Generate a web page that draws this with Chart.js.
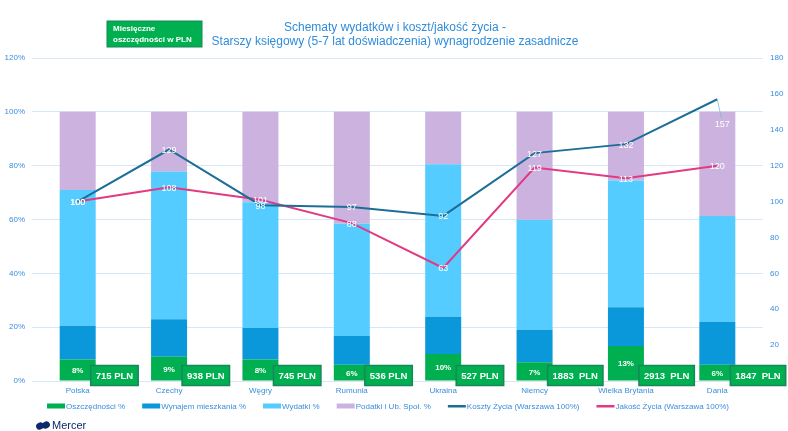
<!DOCTYPE html>
<html>
<head>
<meta charset="utf-8">
<script src="https://cdn.jsdelivr.net/npm/chart.js@4.4.0/dist/chart.umd.min.js"></script>
<style>
  html, body { margin: 0; padding: 0; background: #fff; }
  #wrap { width: 788px; height: 431px; position: relative; }
</style>
</head>
<body>
<div id="wrap"><canvas id="c" width="788" height="431"></canvas></div>
<script>
// ── dane ─────────────────────────────
const KRAJE      = ['Polska', 'Czechy', 'Węgry', 'Rumunia', 'Ukraina', 'Niemcy', 'Wielka Brytania', 'Dania'];
const OSZCZ      = [8, 9, 8, 6, 10, 7, 13, 6];
const NAJEM      = [12.5, 13.9, 11.7, 10.7, 13.9, 12, 14.4, 15.9];
const WYDATKI    = [50.5, 54.9, 46.7, 41.7, 56.6, 40.9, 47.1, 39.4];
const PODATKI    = [29, 22.2, 33.6, 41.6, 19.5, 40.1, 25.5, 38.7];
const KOSZTY     = [100, 129, 98, 97, 92, 127, 132, 157];
const JAKOSC     = [100, 108, 101, 88, 63, 119, 113, 120];
const OSZCZ_PLN  = [715, 938, 745, 536, 527, 1883, 2913, 1847];
const TICKS_L    = [0, 20, 40, 60, 80, 100, 120];
const TICKS_R    = [20, 40, 60, 80, 100, 120, 140, 160, 180];

const BLUE_TXT = '#3A8DDE';
const FONT     = "'Liberation Sans', Arial, sans-serif";

const COL = {
  oszcz:   '#00B050',
  najem:   '#0A98DA',
  wydatki: '#55CCFF',
  podatki: '#CBB2DF',
  koszty:  '#1C6E97',
  jakosc:  '#E23A82',
  boxLine: '#17865A',
};

// ── rysunki dodatkowe ────────────────
const extras = {
  id: 'extras',
  afterDatasetsDraw(chart) {
    const ctx = chart.ctx;
    const metaOsz = chart.getDatasetMeta(0);

    // % oszczędności w zielonym segmencie
    ctx.save();
    ctx.fillStyle = '#fff';
    ctx.font = 'bold 8px ' + FONT;
    ctx.textAlign = 'center';
    ctx.textBaseline = 'middle';
    metaOsz.data.forEach((bar, i) => {
      ctx.fillText(OSZCZ[i] + '%', bar.x, (bar.y + bar.base) / 2 + 1);
    });

    // boxy PLN
    ctx.font = 'bold 9.5px ' + FONT;
    metaOsz.data.forEach((bar, i) => {
      const n = OSZCZ_PLN[i];
      const txt = n + (n >= 1000 ? '  ' : ' ') + 'PLN';
      const w = ctx.measureText(txt).width + 10;
      const x0 = bar.x + bar.width / 2 - 5;
      const y0 = bar.base - 15;
      ctx.fillStyle = COL.oszcz;
      ctx.fillRect(x0, y0, w, 20);
      ctx.strokeStyle = COL.boxLine;
      ctx.lineWidth = 1.5;
      ctx.strokeRect(x0, y0, w, 20);
      ctx.fillStyle = '#fff';
      ctx.textAlign = 'left';
      ctx.fillText(txt, x0 + 5, y0 + 10.5);
    });

    // etykiety linii
    ctx.font = '9px ' + FONT;
    ctx.textAlign = 'center';
    [4, 5].forEach(di => {
      const meta = chart.getDatasetMeta(di);
      const vals = chart.data.datasets[di].data;
      meta.data.forEach((pt, i) => {
        let x = pt.x, y = pt.y;
        if (di === 4 && i === vals.length - 1) {
          ctx.strokeStyle = '#7FB7E6';
          ctx.lineWidth = 0.8;
          ctx.beginPath();
          ctx.moveTo(pt.x, pt.y);
          ctx.lineTo(pt.x + 4, pt.y + 19);
          ctx.stroke();
          x += 5; y += 24;
        }
        ctx.fillStyle = '#fff';
        ctx.fillText(vals[i], x, y + 1);
      });
    });
    ctx.restore();
  },
  afterDraw(chart) {
    const ctx = chart.ctx;
    ctx.save();

    // tytuł
    ctx.fillStyle = '#2F8CDB';
    ctx.font = '12px ' + FONT;
    ctx.textAlign = 'center';
    ctx.textBaseline = 'middle';
    ctx.fillText('Schematy wydatków i koszt/jakość życia -', 395, 28);
    ctx.fillText('Starszy księgowy (5-7 lat doświadczenia) wynagrodzenie zasadnicze', 395, 42);

    // box "Miesięczne oszczędności"
    ctx.fillStyle = COL.oszcz;
    ctx.fillRect(107, 21, 95, 26);
    ctx.strokeStyle = COL.boxLine;
    ctx.lineWidth = 1;
    ctx.strokeRect(107, 21, 95, 26);
    ctx.fillStyle = '#fff';
    ctx.font = 'bold 8px ' + FONT;
    ctx.textAlign = 'left';
    ctx.fillText('Miesięczne', 113, 29);
    ctx.fillText('oszczędności w PLN', 113, 40);

    // legenda
    ctx.font = '8px ' + FONT;
    const items = chart.data.datasets.map(ds => ({
      label: ds.label,
      color: ds.type === 'line' ? ds.borderColor : ds.backgroundColor,
      line: ds.type === 'line',
    }));
    const sw = 18, gapTxt = 1, gapItem = 17;
    let total = 0;
    items.forEach(it => { it.w = sw + gapTxt + ctx.measureText(it.label).width; total += it.w; });
    total += gapItem * (items.length - 1);
    let x = 388 - total / 2;
    const ly = 406;
    items.forEach(it => {
      ctx.fillStyle = it.color;
      if (it.line) ctx.fillRect(x, ly - 1, sw, 2.5);
      else ctx.fillRect(x, ly - 2.5, sw, 5);
      ctx.fillStyle = BLUE_TXT;
      ctx.fillText(it.label, x + sw + gapTxt, ly + 0.5);
      x += it.w + gapItem;
    });

    // logo Mercer
    ctx.fillStyle = '#0B2A6B';
    ctx.beginPath();
    ctx.ellipse(40, 426, 4, 3.5, -0.5, 0, Math.PI * 2);
    ctx.ellipse(46, 425, 4, 3.5, -0.5, 0, Math.PI * 2);
    ctx.fill();
    ctx.font = '11px ' + FONT;
    ctx.fillText('Mercer', 52, 426);
    ctx.restore();
  },
};

new Chart(document.getElementById('c'), {
  data: {
    labels: KRAJE,
    datasets: [
      { type: 'bar', label: 'Oszczędności %', data: OSZCZ, backgroundColor: COL.oszcz, order: 2, yAxisID: 'y' },
      { type: 'bar', label: 'Wynajem mieszkania %', data: NAJEM, backgroundColor: COL.najem, order: 2, yAxisID: 'y' },
      { type: 'bar', label: 'Wydatki %', data: WYDATKI, backgroundColor: COL.wydatki, order: 2, yAxisID: 'y' },
      { type: 'bar', label: 'Podatki i Ub. Społ. %', data: PODATKI, backgroundColor: COL.podatki, order: 2, yAxisID: 'y' },
      { type: 'line', label: 'Koszty Życia (Warszawa 100%)', data: KOSZTY, borderColor: COL.koszty, backgroundColor: COL.koszty,
        borderWidth: 2, pointRadius: 0, tension: 0, order: 1, yAxisID: 'y1' },
      { type: 'line', label: 'Jakość Życia (Warszawa 100%)', data: JAKOSC, borderColor: COL.jakosc, backgroundColor: COL.jakosc,
        borderWidth: 2, pointRadius: 0, tension: 0, order: 1, yAxisID: 'y1' },
    ],
  },
  options: {
    responsive: false,
    animation: false,
    devicePixelRatio: 1,
    layout: { padding: { top: 58, bottom: 30, left: 0, right: 0 } },
    datasets: { bar: { barPercentage: 0.394, categoryPercentage: 1 } },
    plugins: { legend: { display: false }, tooltip: { enabled: false }, title: { display: false } },
    scales: {
      x: {
        stacked: true,
        grid: { display: false, drawTicks: false },
        border: { display: false },
        ticks: { color: BLUE_TXT, font: { size: 8, family: FONT }, padding: 5, maxRotation: 0, autoSkip: false },
        afterFit: s => { s.height = 20; },
      },
      y: {
        stacked: true,
        min: 0, max: 120,
        position: 'left',
        grid: { color: '#D6E7F6', lineWidth: 1, drawTicks: false },
        border: { display: false },
        afterBuildTicks: s => { s.ticks = TICKS_L.map(v => ({ value: v })); },
        ticks: { color: BLUE_TXT, font: { size: 8, family: FONT }, padding: 7, callback: v => v + '%' },
        afterFit: s => { s.width = 32; },
      },
      y1: {
        min: 0, max: 180,
        position: 'right',
        grid: { display: false, drawTicks: false },
        border: { display: false },
        afterBuildTicks: s => { s.ticks = TICKS_R.map(v => ({ value: v })); },
        ticks: { color: BLUE_TXT, font: { size: 8, family: FONT }, padding: 7 },
        afterFit: s => { s.width = 25; },
      },
    },
  },
  plugins: [extras],
});
</script>
</body>
</html>
